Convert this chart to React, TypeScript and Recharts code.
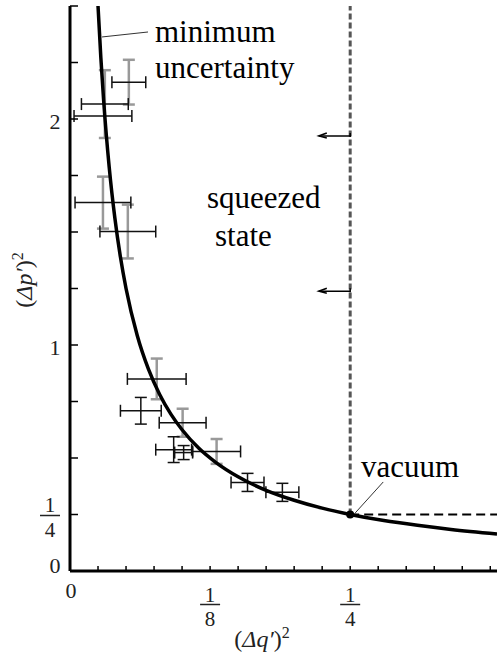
import { ComposedChart, Line, Scatter, ErrorBar, XAxis, YAxis, ReferenceLine, ReferenceDot } from 'recharts';

// minimum uncertainty curve (Δq')²(Δp')² = 1/16
const curve = [
  { x: 0.025, y: 2.5 },
  { x: 0.0275, y: 2.273 },
  { x: 0.03, y: 2.083 },
  { x: 0.035, y: 1.786 },
  { x: 0.04, y: 1.563 },
  { x: 0.045, y: 1.389 },
  { x: 0.05, y: 1.25 },
  { x: 0.06, y: 1.042 },
  { x: 0.07, y: 0.893 },
  { x: 0.08, y: 0.781 },
  { x: 0.09, y: 0.694 },
  { x: 0.1, y: 0.625 },
  { x: 0.115, y: 0.543 },
  { x: 0.13, y: 0.481 },
  { x: 0.15, y: 0.417 },
  { x: 0.175, y: 0.357 },
  { x: 0.2, y: 0.313 },
  { x: 0.225, y: 0.278 },
  { x: 0.25, y: 0.25 },
  { x: 0.28, y: 0.223 },
  { x: 0.31, y: 0.202 },
  { x: 0.34, y: 0.184 },
  { x: 0.381, y: 0.164 },
];

// measured points whose vertical error bar is printed grey
const greyPoints = [
  { x: 0.0525, y: 2.163, ex: 0.0151, ey: 0.099 },
  { x: 0.0311, y: 2.066, ex: 0.0209, ey: 0.15 },
  { x: 0.0294, y: 1.63, ex: 0.0249, ey: 0.115 },
  { x: 0.0516, y: 1.502, ex: 0.0249, ey: 0.119 },
  { x: 0.0774, y: 0.85, ex: 0.0262, ey: 0.09 },
  { x: 0.1005, y: 0.656, ex: 0.0209, ey: 0.062 },
  { x: 0.1308, y: 0.529, ex: 0.0214, ey: 0.055 },
];

// measured points with black error bars
const blackPoints = [
  { x: 0.0294, y: 2.013, ex: 0.0258, ey: 0.0 },
  { x: 0.0632, y: 0.709, ex: 0.0182, ey: 0.059 },
  { x: 0.0925, y: 0.537, ex: 0.016, ey: 0.057 },
  { x: 0.1014, y: 0.524, ex: 0.008, ey: 0.031 },
  { x: 0.1584, y: 0.392, ex: 0.0147, ey: 0.04 },
  { x: 0.1895, y: 0.348, ex: 0.0147, ey: 0.04 },
];

const xTicks = [0, 0.025, 0.05, 0.075, 0.1, 0.125, 0.15, 0.175, 0.2, 0.225, 0.25, 0.275, 0.3, 0.325, 0.35, 0.375];
const yTicks = [0, 0.25, 0.5, 0.75, 1, 1.25, 1.5, 1.75, 2, 2.25, 2.5];
const xLabels: Record<string, string[]> = { '0': ['0'], '0.125': ['1', '8'], '0.25': ['1', '4'] };
const yLabels: Record<string, string[]> = { '0': ['0'], '0.25': ['1', '4'], '1': ['1'], '2': ['2'] };

const vacuum = { x: 0.25, y: 0.25 };
const arrowLevels = [1.925, 1.238];
const arrowTip = 0.222;
const minLeader = [{ x: 0.0286, y: 2.363 }, { x: 0.0696, y: 2.385 }];
const vacLeader = [{ x: 0.2545, y: 0.257 }, { x: 0.2795, y: 0.394 }];

const FONT = '"Liberation Serif", "Times New Roman", serif';

const XTick = (props: any) => {
  const { x, y, payload } = props;
  const lab = xLabels[String(payload.value)];
  return (
    <g>
      {payload.value !== 0 && <line x1={x} x2={x} y1={y} y2={y - 5} stroke="#000" strokeWidth={1.5} />}
      {lab && lab.length === 1 && (
        <text x={x + 1} y={y + 27} textAnchor="middle" fontSize={22} fontFamily={FONT} fill="#222">{lab[0]}</text>
      )}
      {lab && lab.length === 2 && (
        <g>
          <text x={x} y={y + 31} textAnchor="middle" fontSize={21} fontFamily={FONT} fill="#222">{lab[0]}</text>
          <line x1={x - 10} x2={x + 10} y1={y + 33.5} y2={y + 33.5} stroke="#222" strokeWidth={1.5} />
          <text x={x} y={y + 55} textAnchor="middle" fontSize={21} fontFamily={FONT} fill="#222">{lab[1]}</text>
        </g>
      )}
    </g>
  );
};

const YTick = (props: any) => {
  const { x, y, payload } = props;
  const lab = yLabels[String(payload.value)];
  return (
    <g>
      {payload.value !== 0 && <line x1={x} x2={x + 8} y1={y} y2={y} stroke="#000" strokeWidth={1.5} />}
      {lab && lab.length === 1 && (
        <text x={x - 15} y={payload.value === 0 ? y + 2 : y + 10} textAnchor="middle" fontSize={22} fontFamily={FONT} fill="#222">{lab[0]}</text>
      )}
      {lab && lab.length === 2 && (
        <g>
          <text x={x - 20} y={y - 3} textAnchor="middle" fontSize={21} fontFamily={FONT} fill="#222">{lab[0]}</text>
          <line x1={x - 30} x2={x - 10} y1={y + 1} y2={y + 1} stroke="#222" strokeWidth={1.5} />
          <text x={x - 20} y={y + 22} textAnchor="middle" fontSize={21} fontFamily={FONT} fill="#222">{lab[1]}</text>
        </g>
      )}
    </g>
  );
};

const Arrow = (props: any) => {
  const { x1, y1, x2, y2 } = props;
  return (
    <g stroke="#000" strokeWidth={1.5} fill="none">
      <line x1={x1} y1={y1} x2={x2} y2={y2} />
      <line x1={x1} y1={y1 - 3} x2={x1} y2={y1 + 1} />
      <path d={`M ${x2 + 8} ${y2 - 3} L ${x2} ${y2} L ${x2 + 8} ${y2 + 2}`} />
    </g>
  );
};

const NoDot = () => <g />;

export default function App() {
  return (
    <div style={{ position: 'absolute', left: 0, top: 0, width: 497, height: 654, background: '#fff' }}>
      <ComposedChart width={497} height={654} margin={{ top: 6, right: 0, bottom: 0, left: 0 }}>
        <XAxis
          type="number"
          dataKey="x"
          domain={[0, 0.381]}
          ticks={xTicks}
          interval={0}
          allowDataOverflow
          height={83}
          tickSize={0}
          tickMargin={0}
          tickLine={false}
          tick={<XTick />}
          axisLine={{ stroke: '#000', strokeWidth: 3 }}
        />
        <YAxis
          type="number"
          dataKey="y"
          domain={[0, 2.5]}
          ticks={yTicks}
          interval={0}
          allowDataOverflow
          width={70}
          tickSize={0}
          tickMargin={0}
          tickLine={false}
          tick={<YTick />}
          axisLine={{ stroke: '#000', strokeWidth: 3 }}
        />
        <ReferenceLine
          segment={[{ x: vacuum.x, y: vacuum.y }, { x: vacuum.x, y: 2.5 }]}
          stroke="#555"
          strokeWidth={3}
          strokeDasharray="6 3"
        />
        <ReferenceLine
          segment={[{ x: vacuum.x, y: vacuum.y }, { x: 0.381, y: vacuum.y }]}
          stroke="#000"
          strokeWidth={2}
          strokeDasharray="9 5"
        />
        {arrowLevels.map((lv) => (
          <ReferenceLine key={lv} segment={[{ x: vacuum.x, y: lv }, { x: arrowTip, y: lv }]} shape={Arrow} />
        ))}
        <ReferenceLine segment={minLeader} stroke="#333" strokeWidth={1} />
        <ReferenceLine segment={vacLeader} stroke="#333" strokeWidth={1} />
        <Scatter data={greyPoints} shape={NoDot} isAnimationActive={false}>
          <ErrorBar dataKey="ey" direction="y" stroke="#999" strokeWidth={2.5} width={6} />
          <ErrorBar dataKey="ex" direction="x" stroke="#111" strokeWidth={1.5} width={6} />
        </Scatter>
        <Scatter data={blackPoints} shape={NoDot} isAnimationActive={false}>
          <ErrorBar dataKey="ey" direction="y" stroke="#111" strokeWidth={1.5} width={6} />
          <ErrorBar dataKey="ex" direction="x" stroke="#111" strokeWidth={1.5} width={6} />
        </Scatter>
        <Line
          data={curve}
          dataKey="y"
          type="monotone"
          stroke="#000"
          strokeWidth={3.5}
          dot={false}
          isAnimationActive={false}
        />
        <ReferenceDot x={vacuum.x} y={vacuum.y} r={4} fill="#000" stroke="none" />
      </ComposedChart>
      <svg width={497} height={654} style={{ position: 'absolute', left: 0, top: 0, pointerEvents: 'none' }}>
        <g fontFamily={FONT} fontSize={31} fill="#000">
          <text x={155} y={42}>minimum</text>
          <text x={155} y={78}>uncertainty</text>
          <text x={207} y={208}>squeezed</text>
          <text x={215} y={246}>state</text>
          <text x={361} y={477}>vacuum</text>
        </g>
        <text x={262} y={647} textAnchor="middle" fontFamily={FONT} fontSize={24} fill="#222">
          (<tspan fontStyle="italic">Δq′</tspan>)<tspan dy={-9} fontSize={16}>2</tspan>
        </text>
        <text x={25} y={287} transform="rotate(-90 25 280)" textAnchor="middle" fontFamily={FONT} fontSize={24} fill="#222">
          (<tspan fontStyle="italic">Δp′</tspan>)<tspan dy={-9} fontSize={16}>2</tspan>
        </text>
      </svg>
    </div>
  );
}
